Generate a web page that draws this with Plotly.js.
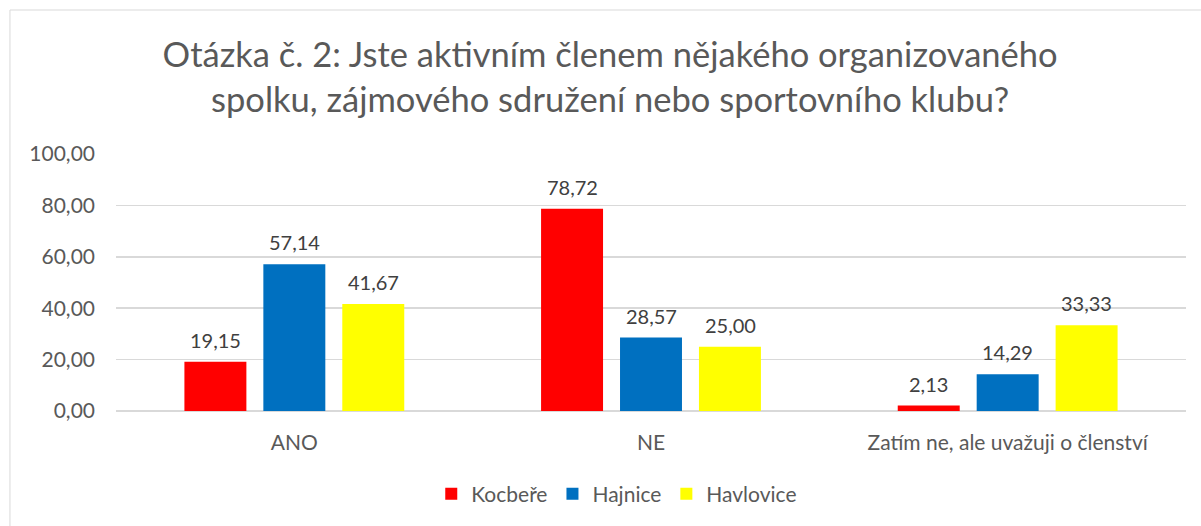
<!DOCTYPE html>
<html><head><meta charset="utf-8">
<script src="https://cdn.plot.ly/plotly-3.0.1.min.js"></script>
<style>html,body{margin:0;padding:0;background:#fff}#chart{width:1201px;height:526px}</style>
</head><body><div id="chart"></div>
<script>
const categories = ["ANO", "NE", "Zatím ne, ale uvažuji o členství"];
const kocbere = [19.15, 78.72, 2.13];
const hajnice = [57.14, 28.57, 14.29];
const havlovice = [41.67, 25.00, 33.33];
const seriesNames = ["Kocbeře", "Hajnice", "Havlovice"];
const seriesColors = ["#FF0000", "#0070C0", "#FFFF00"];
const yTicks = [0, 20, 40, 60, 80, 100];

const FONT = "Lato, 'Open Sans', sans-serif";
const values = [kocbere, hajnice, havlovice];
const traces = values.map((v, i) => ({
  type: "bar",
  name: seriesNames[i],
  x: categories,
  y: v,
  marker: {color: seriesColors[i]},
  hoverinfo: "skip"
}));

const SLOT = 79; // pixel spacing between bars in a group
const annotations = [];
values.forEach((v, i) => {
  v.forEach((val, j) => {
    annotations.push({
      x: categories[j], y: val, xref: "x", yref: "y",
      text: val.toFixed(2).replace(".", ","),
      showarrow: false, yanchor: "bottom", xanchor: "center",
      xshift: (i - 1) * SLOT, yshift: 8,
      font: {family: FONT, size: 20, color: "#404040"}
    });
  });
});

const layout = {
  width: 1201, height: 526,
  margin: {l: 116, r: 15, t: 154, b: 115},
  paper_bgcolor: "#fff", plot_bgcolor: "#fff",
  separators: ", ",
  font: {family: FONT, color: "#595959"},
  title: {
    text: "Otázka č. 2: Jste aktivním členem nějakého organizovaného<br>spolku, zájmového sdružení nebo sportovního klubu?",
    font: {family: FONT, size: 34.5, color: "#595959"},
    x: 0.508, xanchor: "center", y: 0.872, yanchor: "middle"
  },
  barmode: "group",
  bargap: 0.336,
  bargroupgap: 0.215,
  xaxis: {
    tickfont: {family: FONT, size: 21, color: "#595959"},
    showline: false, ticks: "", showgrid: false, ticklabelstandoff: 17
  },
  yaxis: {
    range: [0, 100],
    tickvals: yTicks,
    tickformat: ".2f",
    tickfont: {family: FONT, size: 21, color: "#595959"},
    gridcolor: "#D9D9D9", gridwidth: 1.5,
    zeroline: true, zerolinecolor: "#D9D9D9", zerolinewidth: 1.5,
    ticks: "", ticklen: 0, ticklabelstandoff: 20
  },
  annotations: annotations,
  showlegend: true,
  legend: {
    orientation: "h", x: 0.468, xanchor: "center", y: -0.323, yanchor: "middle",
    font: {family: FONT, size: 21, color: "#595959"},
    itemwidth: 30, tracegroupgap: 0
  },
  shapes: [
    {type: "line", xref: "paper", yref: "paper", x0: -0.0991, x1: 1.02, y0: 1.5603, y1: 1.5603, line: {color: "#D9D9D9", width: 1}},
    {type: "line", xref: "paper", yref: "paper", x0: -0.0991, x1: -0.0991, y0: 1.5603, y1: -0.45, line: {color: "#D9D9D9", width: 1}}
  ]
};
Plotly.newPlot("chart", traces, layout, {displayModeBar: false, staticPlot: true});
</script></body></html>
